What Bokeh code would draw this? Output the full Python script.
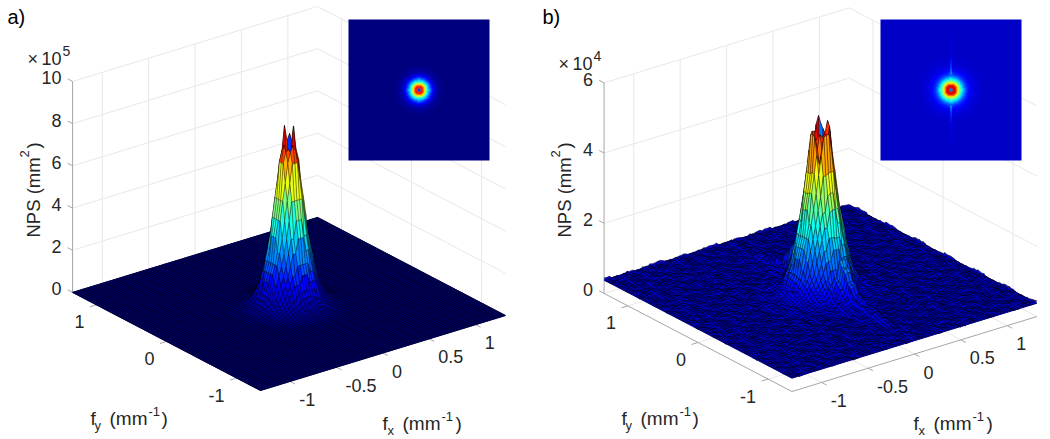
from bokeh.plotting import figure
from bokeh.models import ColumnDataSource, Range1d, LinearColorMapper
from bokeh.embed import file_html
from bokeh.resources import INLINE
from bokeh.core.properties import value
import numpy as np

# ---- data ----
X_TICKS = [-1, -0.5, 0, 0.5, 1]
X_LABELS = ["-1", "-0.5", "0", "0.5", "1"]
Y_TICKS = [-1, 0, 1]
Y_LABELS = ["-1", "0", "1"]
Z_TICKS_A = [0, 2, 4, 6, 8, 10]
Z_TICKS_B = [0, 2, 4, 6]
# height of the peak (axis units) for radial frequency bins of 0.02 mm^-1
RADIAL_A = [1.5, 4.0, 6.8, 7.4, 6.8, 5.9, 5.1, 4.2, 3.4, 2.75, 2.2, 1.75, 1.35, 1.05, 0.8, 0.6, 0.45,
            0.34, 0.26, 0.2, 0.15, 0.11, 0.08, 0.06, 0.04, 0.03, 0.02, 0.015, 0.01]
RADIAL_B = [1.3, 3.5, 4.6, 5.0, 4.9, 4.4, 3.85, 3.3, 2.85, 2.45, 2.1, 1.8, 1.5, 1.25, 1.05, 0.92, 0.82,
            0.74, 0.67, 0.62, 0.58, 0.55, 0.52, 0.5, 0.48, 0.46, 0.45, 0.44, 0.43, 0.42, 0.41, 0.40]
# the dimpled tip of each peak, node by node (rows fy=+2d..-2d, columns fx=-2d..+2d)
CENTER_A = [[6.8, 7.3, 7.7, 7.3, 6.8],
            [7.3, 8.45, 7.7, 8.0, 7.3],
            [7.6, 7.0, 1.5, 7.7, 7.6],
            [7.3, 7.4, 7.0, 8.45, 7.3],
            [6.8, 7.3, 7.6, 7.3, 6.8]]
CENTER_B = [[4.1, 4.5, 4.7, 4.5, 4.1],
            [4.5, 5.13, 5.37, 5.1, 4.5],
            [4.7, 4.8, 1.3, 5.0, 4.7],
            [4.5, 4.9, 4.8, 4.9, 5.24],
            [4.1, 4.5, 4.7, 4.5, 5.1]]
# streak along fx=0 in panel b, for |fy| bins of 0.1 mm^-1
RIDGE_B = [0, 0, 0, 0.7, 0.5, 0.32, 0.22, 0.16, 0.12, 0.08, 0.05, 0.03, 0.02, 0.01, 0.0]
# surface roughness of panel b: amplitude; the pattern is
# a hand-written stand-in, not a node-by-node reading (in 0.01 axis units)
ROUGH_FINE = [[2, -3, 1, 4, -2, 0, 3, -4, 1, -1, 2],
              [-1, 3, -4, 0, 2, -3, 1, 2, -2, 4, -3],
              [4, -2, 0, -3, 3, 1, -4, 0, 3, -2, 1],
              [-3, 1, 3, -1, -4, 2, 0, 4, -1, 2, -2],
              [0, 4, -2, 2, 1, -4, 3, -1, -3, 1, 3],
              [3, -1, -3, 4, -2, 2, -2, 1, 4, -4, 0],
              [-4, 2, 1, -2, 3, 0, 2, -3, -1, 3, -1],
              [1, -4, 3, 0, -1, 4, -3, 2, 0, -2, 4],
              [2, 0, -1, 3, -3, -2, 4, -1, 2, 1, -3],
              [-2, 3, 2, -4, 1, 3, -1, -2, 4, 0, 1],
              [3, -3, 0, 1, 4, -1, -2, 3, -4, 2, -1],
              [-1, 1, 4, -2, 0, 2, 3, -4, 1, -3, 2],
              [0, -2, -3, 3, 2, -4, 1, 0, -1, 4, -2]]
ROUGH_COARSE = [[3, -2, 4, -1, 1],
                [-3, 1, -1, 3, -4],
                [2, 4, -3, 0, 2],
                [-1, -4, 2, 4, -2],
                [4, 0, -2, -3, 3],
                [-2, 3, 1, -4, 0],
                [1, -1, 3, 2, -3]]
NODES = 97

# ---- view ----
XL, YL = 1.32, 1.34


def jet(t):
    t = np.clip(t, 0, 1)
    r = np.clip(1.5 - np.abs(4 * t - 3), 0, 1)
    g = np.clip(1.5 - np.abs(4 * t - 2), 0, 1)
    b = np.clip(1.5 - np.abs(4 * t - 1), 0, 1)
    return r, g, b


def hexc(t):
    r, g, b = jet(t)
    return "#%02x%02x%02x" % (int(r * 255), int(g * 255), int(b * 255))


JET = [hexc(i / 255) for i in range(256)]


def make_proj(cx, cy, zs):
    def P(x, y, z):
        return cx + 92.8 * np.asarray(x) - 70.1 * np.asarray(y), cy - 28.4 * np.asarray(x) - 36.6 * np.asarray(y) - zs * np.asarray(z)
    return P


def radial(tab, r):
    return tab[min(int(round(r / 0.02)), len(tab) - 1)]


def ridge_at(fy):
    return RIDGE_B[min(int(abs(fy) / 0.1), len(RIDGE_B) - 1)]


p = figure(width=1050, height=439, output_backend="svg", toolbar_location=None,
           x_range=Range1d(0, 1050), y_range=Range1d(439, 0), min_border=0,
           outline_line_color=None)
p.xaxis.visible = False
p.yaxis.visible = False
p.grid.visible = False
p.background_fill_color = "white"
p.border_fill_color = "white"


def panel(cx, cy, zs, zticks, radial_tab, center, top, rough, inset_x, shift, exp, edge_alpha, base_z, base_col):
    P = make_proj(cx, cy, zs)
    zmax = zticks[-1]
    # grid
    xs, ys = [], []

    def seg(a, b):
        x0, y0 = P(*a)
        x1, y1 = P(*b)
        xs.append([float(x0), float(x1)])
        ys.append([float(y0), float(y1)])
    for z in zticks:
        seg((-XL, YL, z), (XL, YL, z))
        seg((XL, YL, z), (XL, -YL, z))
    for t in X_TICKS:
        seg((t, YL, 0), (t, YL, zmax))
        seg((t, YL, 0), (t, -YL, 0))
    for t in Y_TICKS:
        seg((XL, t, 0), (XL, t, zmax))
        seg((-XL, t, 0), (XL, t, 0))
    p.multi_line(xs, ys, line_color="#e8e8e8", line_width=1)
    # axes and ticks
    xs, ys = [], []
    seg((-XL, YL, 0), (-XL, YL, zmax))
    seg((-XL, YL, 0), (-XL, -YL, 0))
    seg((-XL, -YL, 0), (XL, -YL, 0))
    for z in zticks:
        seg((-XL, YL, z), (-XL, YL + 0.07, z))
    for t in X_TICKS:
        seg((t, -YL, 0), (t, -YL - 0.07, 0))
    for t in Y_TICKS:
        seg((-XL, t, 0), (-XL - 0.07, t, 0))
    p.multi_line(xs, ys, line_color="#a6a6a6", line_width=1)

    # dark underlay so that the seams between facets do not show the white page
    ux, uy = P([-XL, XL, XL, -XL], [-YL, -YL, YL, YL], [base_z] * 4)
    p.patch(ux.tolist(), uy.tolist(), fill_color=base_col, line_color=base_col, line_width=1)

    # surface
    nx = np.linspace(-XL, XL, NODES)
    ny = np.linspace(-YL, YL, NODES)
    c = NODES // 2
    Z = np.zeros((NODES, NODES))
    for i in range(NODES):
        for j in range(NODES):
            r = float(np.hypot(nx[i], ny[j]))
            Z[i, j] = radial(radial_tab, r)
            if rough:
                Z[i, j] += 0.01 * ROUGH_FINE[i % 13][j % 11] * 0.4 + 0.01 * ROUGH_COARSE[(i // 3) % 7][(j // 3) % 5]
                if abs(i - c) <= 1:
                    Z[i, j] += 1.0 * ridge_at(ny[j])
                elif abs(i - c) <= 3:
                    Z[i, j] += 0.45 * ridge_at(ny[j])
                elif abs(i - c) <= 5:
                    Z[i, j] += 0.15 * ridge_at(ny[j])
    for b_, row in enumerate(center):
        for a_, v in enumerate(row):
            Z[c - 2 + a_, c + 2 - b_] = v
    polys_x, polys_y, cols, keys = [], [], [], []
    for i in range(NODES - 1):
        for j in range(NODES - 1):
            qx = [nx[i], nx[i + 1], nx[i + 1], nx[i]]
            qy = [ny[j], ny[j], ny[j + 1], ny[j + 1]]
            qz = [Z[i, j], Z[i + 1, j], Z[i + 1, j + 1], Z[i, j + 1]]
            sx, sy = P(qx, qy, qz)
            _, fy = P(np.mean(qx), np.mean(qy), 0)
            polys_x.append(sx.tolist())
            polys_y.append(sy.tolist())
            cols.append(hexc(Z[i, j] / top))
            keys.append(float(fy))
    order = np.argsort(keys)
    src = ColumnDataSource(dict(xs=[polys_x[k] for k in order], ys=[polys_y[k] for k in order],
                                c=[cols[k] for k in order]))
    p.patches("xs", "ys", source=src, fill_color="c", line_color="black", line_width=0.5, line_alpha=edge_alpha)

    # inset
    n = 141
    g = np.linspace(-XL, XL, n)
    img = np.zeros((n, n))
    for a_ in range(n):
        for b_ in range(n):
            img[b_, a_] = radial(radial_tab, float(np.hypot(g[a_], g[b_])))
            if rough and abs(g[a_]) < 0.012:
                img[b_, a_] += 1.2 * ridge_at(g[b_])
            elif rough and abs(g[a_]) < 0.03:
                img[b_, a_] += 0.25 * ridge_at(g[b_])
            if np.hypot(g[a_], g[b_]) < 0.03:
                img[b_, a_] = center[2][2]
    mapper = LinearColorMapper(palette=JET, low=0, high=top)
    p.image([img], x=inset_x, y=19, dw=141, dh=141, color_mapper=mapper)

    # text
    font = value("Liberation Sans")
    tc = "#262626"
    for t, lab in zip(X_TICKS, X_LABELS):
        x0, y0 = P(t, -YL, 0)
        p.text([float(x0) + 9], [float(y0) + 18], text=[lab], text_font=font, text_font_size="18px",
               text_color=tc, text_align="left", text_baseline="middle")
    for t, lab in zip(Y_TICKS, Y_LABELS):
        x0, y0 = P(-XL, t, 0)
        p.text([float(x0) - 12], [float(y0) + 17], text=[lab], text_font=font, text_font_size="18px",
               text_color=tc, text_align="right", text_baseline="middle")
    for z in zticks:
        x0, y0 = P(-XL, YL, z)
        p.text([float(x0) - 11], [float(y0) - 3.5], text=[str(z)], text_font=font, text_font_size="18px",
               text_color=tc, text_align="right", text_baseline="middle")

    def t(x, y, s, size, **kw):
        p.text([x + shift], [y], text=[s], text_font=font, text_font_size=size, text_color=kw.pop("color", tc),
               text_baseline=kw.pop("baseline", "alphabetic"), **kw)
    # multiplier
    my = 58 if exp == "5" else 63
    t(27, my, "\u00d7", "18px")
    t(41, my, "10", "18px")
    t(62, my - 8, exp, "14px")
    # z label
    zx = 33 if exp == "5" else 32.5
    t(zx, 237, "NPS (mm", "18.5px", angle=np.pi / 2)
    t(zx - 9, 157, "2", "13px", angle=np.pi / 2)
    t(zx, 148, ")", "18.5px", angle=np.pi / 2)
    # fy label
    t(90, 418, "f", "19px")
    t(94, 425, "y", "13px")
    t(109, 418, "(mm", "19px")
    t(148, 411, "-1", "13px")
    t(161, 418, ")", "19px")
    # fx label
    t(382, 423, "f", "19px")
    t(387, 430, "x", "13px")
    t(402, 423, "(mm", "19px")
    t(441, 416, "-1", "13px")
    t(455, 423, ")", "19px")


panel(288.5, 303.5, 21.1, Z_TICKS_A, RADIAL_A, CENTER_A, 8.45, False, 348, 0, "5", 0.6, 0.0, "#000050")
panel(820, 304.5, 35.1, Z_TICKS_B, RADIAL_B, CENTER_B, 5.4, True, 880, 531, "4", 0.7, 0.38, "#000080")

font = value("Liberation Sans")
p.text([7], [16], text=["a)"], text_font=font, text_font_size="20px", text_color="black",
       text_baseline="middle")
p.text([542], [16], text=["b)"], text_font=font, text_font_size="20px", text_color="black",
       text_baseline="middle")

open("out.html", "w").write(file_html(p, INLINE))
